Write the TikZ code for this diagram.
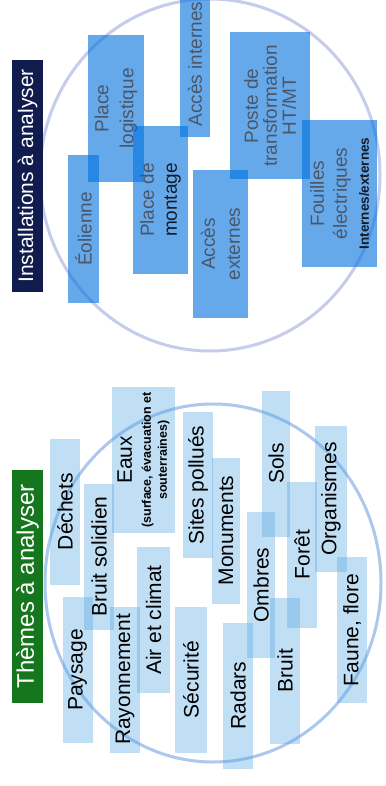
\documentclass[tikz,border=0pt]{standalone}
\usepackage{fontspec}
\setmainfont{Liberation Sans}
\definecolor{ifill}{RGB}{0,113,222}
\definecolor{tfill}{RGB}{80,165,225}
\definecolor{itext}{RGB}{74,86,104}
\definecolor{idark}{RGB}{21,26,37}
\definecolor{navytitle}{RGB}{16,28,78}
\definecolor{greentitle}{RGB}{22,118,30}
\definecolor{circA}{RGB}{198,204,236}
\definecolor{circB}{RGB}{172,200,236}
\newcommand\smallb{\fontsize{12.5}{13}\selectfont\bfseries}
\tikzset{
  ibox/.style={rotate=90, fill=ifill, fill opacity=0.6, text opacity=1, inner sep=0pt,
    minimum width=147pt, align=center, text=itext, font=\fontsize{19}{23}\selectfont},
  tbox/.style={rotate=90, fill=tfill, fill opacity=0.35, text opacity=1, inner sep=0pt,
    minimum width=146pt, minimum height=30pt, align=center, text=black, font=\fontsize{21}{25}\selectfont},
  titlebox/.style={rotate=90, inner sep=0pt, minimum height=31pt, text=white},
  ring/.style={line width=3pt},
}
\begin{document}
\begin{tikzpicture}[x=1pt,y=-1pt]
\useasboundingbox (0,0) rectangle (385,786);
\fill[white] (0,0) rectangle (385,786);
% rings
\draw[ring, circA] (210,175) ellipse [x radius=170, y radius=176];
\draw[ring, circB] (213,583) ellipse [x radius=168, y radius=179];
% ---- Installations ----
\node[titlebox, fill=navytitle, minimum width=232pt, font=\fontsize{21}{25}\selectfont] (tinst) at (27.5,176) {Installations à analyser};
\node[ibox, minimum height=31pt] (eol) at (83.5,229) {Éolienne};
\node[ibox, minimum height=56pt, font=\fontsize{19}{25}\selectfont] (plog) at (116,108.5) {Place\\logistique};
\node[ibox, minimum height=55pt] (pmont) at (160.5,200) {Place de\\\textcolor{idark}{montage}};
\node[ibox, minimum height=30pt] (accint) at (195,64) {Accès internes};
\node[ibox, minimum height=55pt, font=\fontsize{19}{25}\selectfont] (accext) at (220.5,244) {Accès\\externes};
\node[ibox, minimum height=80pt, font=\fontsize{19}{19}\selectfont] (poste) at (270,106) {Poste de\\transformation\\HT/MT};
\node[ibox, minimum height=75pt, font=\fontsize{19}{23}\selectfont] (fouil) at (339.5,193.5) {Fouilles\\électriques\\[-1pt]{\fontsize{13.5}{16}\selectfont\bfseries\textcolor{idark}{Internes/externes}}};
% ---- Themes ----
\node[titlebox, fill=greentitle, minimum width=233pt, font=\fontsize{24}{28}\selectfont] (ttheme) at (27.5,586.5) {Thèmes à analyser};
\node[tbox] (dech) at (65,511.5) {Déchets};
\node[tbox] (pays) at (77.5,670) {Paysage};
\node[tbox] (bsol) at (99,556.5) {Bruit solidien};
\node[tbox] (rayo) at (125,679.5) {Rayonnement};
\node[tbox, minimum height=63pt] (eaux) at (143.5,460) {Eaux\\[-6pt]{\smallb (surface, évacuation et}\\[-9pt]{\smallb souterraines)}};
\node[tbox, minimum height=33pt] (air) at (153.5,620) {Air et climat};
\node[tbox, minimum height=32pt] (secu) at (191,679.5) {Sécurité};
\node[tbox] (sites) at (198,485) {Sites pollués};
\node[tbox, minimum height=28pt] (monu) at (226,530.5) {Monuments};
\node[tbox] (radar) at (238,695.5) {Radars};
\node[tbox, minimum height=28pt] (ombr) at (261,585) {Ombres};
\node[tbox, minimum height=28pt] (sols) at (276,463.5) {Sols};
\node[tbox] (bruit) at (285,670.5) {Bruit};
\node[tbox] (foret) at (302,554.5) {Forêt};
\node[tbox, minimum height=32pt] (orga) at (331,499) {Organismes};
\node[tbox] (faune) at (352,630) {Faune, flore};
\end{tikzpicture}
\end{document}
